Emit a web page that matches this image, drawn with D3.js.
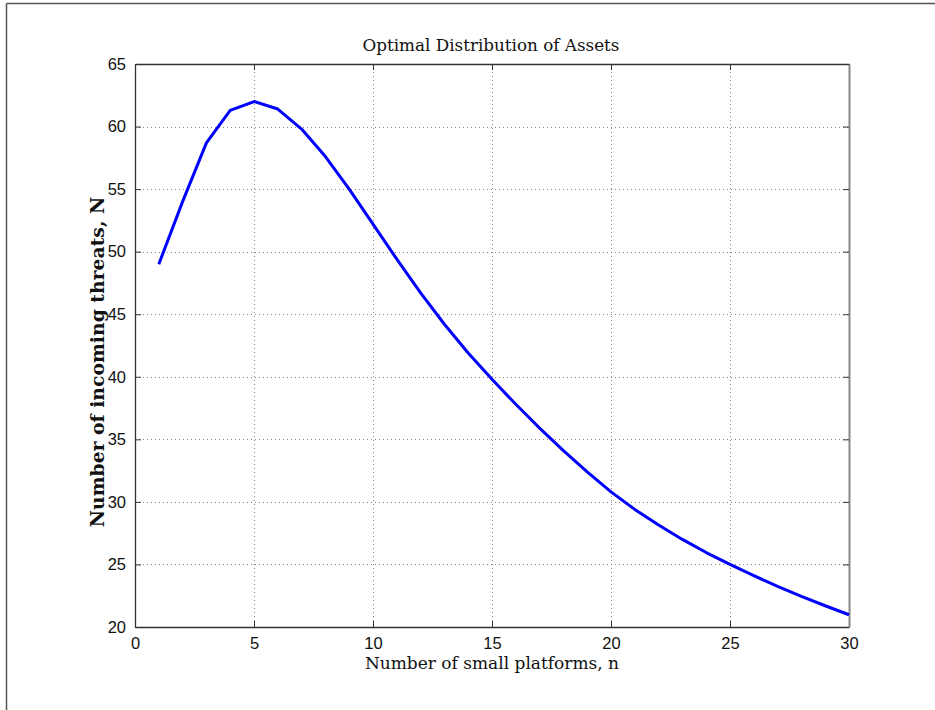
<!DOCTYPE html>
<html>
<head>
<meta charset="utf-8">
<script src="https://cdn.jsdelivr.net/npm/d3@7"></script>
<style>
  html, body { margin: 0; padding: 0; background: #fff; }
  svg { display: block; }
</style>
</head>
<body>
<svg id="chart" width="935" height="710"></svg>
<script>
// Platforms n = 1..30
const platforms = d3.range(1, 31);
// Number of incoming threats N for each platform count
const threats = [
  49.0, 54.0, 58.7, 61.3, 62.0, 61.4, 59.8, 57.6, 55.0, 52.2,
  49.4, 46.7, 44.2, 41.9, 39.8, 37.8, 35.9, 34.1, 32.4, 30.8,
  29.4, 28.15, 27.0, 25.95, 25.0, 24.1, 23.25, 22.45, 21.7, 20.98
];
const xTicks = [0, 5, 10, 15, 20, 25, 30];
const yTicks = [20, 25, 30, 35, 40, 45, 50, 55, 60, 65];

const titleText = "Optimal Distribution of Assets";
const xLabelText = "Number of small platforms, n";
const yLabelText = "Number of incoming threats, N";

const svg = d3.select("#chart");
const plotL = 135, plotR = 849, plotT = 64, plotB = 627;

const x = d3.scaleLinear().domain([0, 30]).range([plotL, plotR]);
const y = d3.scaleLinear().domain([20, 65]).range([plotB, plotT]);

// outer figure frame (top and left edges)
svg.append("line").attr("x1", 6.5).attr("x2", 935).attr("y1", 3.5).attr("y2", 3.5)
  .attr("stroke", "#555").attr("stroke-width", 1.5);
svg.append("line").attr("x1", 6.5).attr("x2", 6.5).attr("y1", 3.5).attr("y2", 710)
  .attr("stroke", "#555").attr("stroke-width", 1.5);

// dotted grid
const grid = svg.append("g").attr("stroke", "#888").attr("stroke-width", 1)
  .attr("stroke-dasharray", "1,3");
grid.selectAll(".gx").data(xTicks.slice(1, -1)).enter().append("line")
  .attr("x1", d => Math.round(x(d)) + 0.5).attr("x2", d => Math.round(x(d)) + 0.5)
  .attr("y1", plotT).attr("y2", plotB);
grid.selectAll(".gy").data(yTicks.slice(1, -1)).enter().append("line")
  .attr("y1", d => Math.round(y(d)) + 0.5).attr("y2", d => Math.round(y(d)) + 0.5)
  .attr("x1", plotL).attr("x2", plotR);

// axes with inward ticks
const fmt = d3.format("d");
const axB = svg.append("g").attr("transform", `translate(0,${plotB})`)
  .call(d3.axisBottom(x).tickValues(xTicks).tickSizeInner(-6).tickSizeOuter(0).tickPadding(10).tickFormat(fmt));
const axT = svg.append("g").attr("transform", `translate(0,${plotT})`)
  .call(d3.axisTop(x).tickValues(xTicks).tickSizeInner(-6).tickSizeOuter(0).tickFormat(""));
const axL = svg.append("g").attr("transform", `translate(${plotL},0)`)
  .call(d3.axisLeft(y).tickValues(yTicks).tickSizeInner(-6).tickSizeOuter(0).tickPadding(9).tickFormat(fmt));
const axR = svg.append("g").attr("transform", `translate(${plotR},0)`)
  .call(d3.axisRight(y).tickValues(yTicks).tickSizeInner(-6).tickSizeOuter(0).tickFormat(""));

[axB, axT, axL, axR].forEach(g => {
  g.select(".domain").attr("stroke", "#333").attr("stroke-width", 1.3);
  g.selectAll(".tick line").attr("stroke", "#333");
  g.selectAll("text").attr("font-family", "'Liberation Sans', Arial, sans-serif")
    .attr("font-size", 16.5).attr("fill", "#111");
});
axR.select(".domain").attr("stroke", "#888").attr("stroke-width", 2);

// data line
const line = d3.line().x((d, i) => x(platforms[i])).y(d => y(d));
svg.append("path").datum(threats)
  .attr("d", line)
  .attr("fill", "none")
  .attr("stroke", "#0000ff")
  .attr("stroke-width", 3)
  .attr("stroke-linejoin", "round");

// title and axis labels
svg.append("text").attr("x", 491).attr("y", 51).attr("text-anchor", "middle")
  .attr("font-family", "'DejaVu Serif', serif").attr("font-size", 16.8)
  .attr("fill", "#111").text(titleText);
svg.append("text").attr("x", 492).attr("y", 669).attr("text-anchor", "middle")
  .attr("font-family", "'DejaVu Serif', serif").attr("font-size", 17)
  .attr("fill", "#111").text(xLabelText);
svg.append("text").attr("transform", "translate(104,362) rotate(-90)")
  .attr("text-anchor", "middle")
  .attr("font-family", "'DejaVu Serif', serif").attr("font-weight", "bold").attr("font-size", 18.8)
  .attr("fill", "#111").text(yLabelText);
</script>
</body>
</html>
